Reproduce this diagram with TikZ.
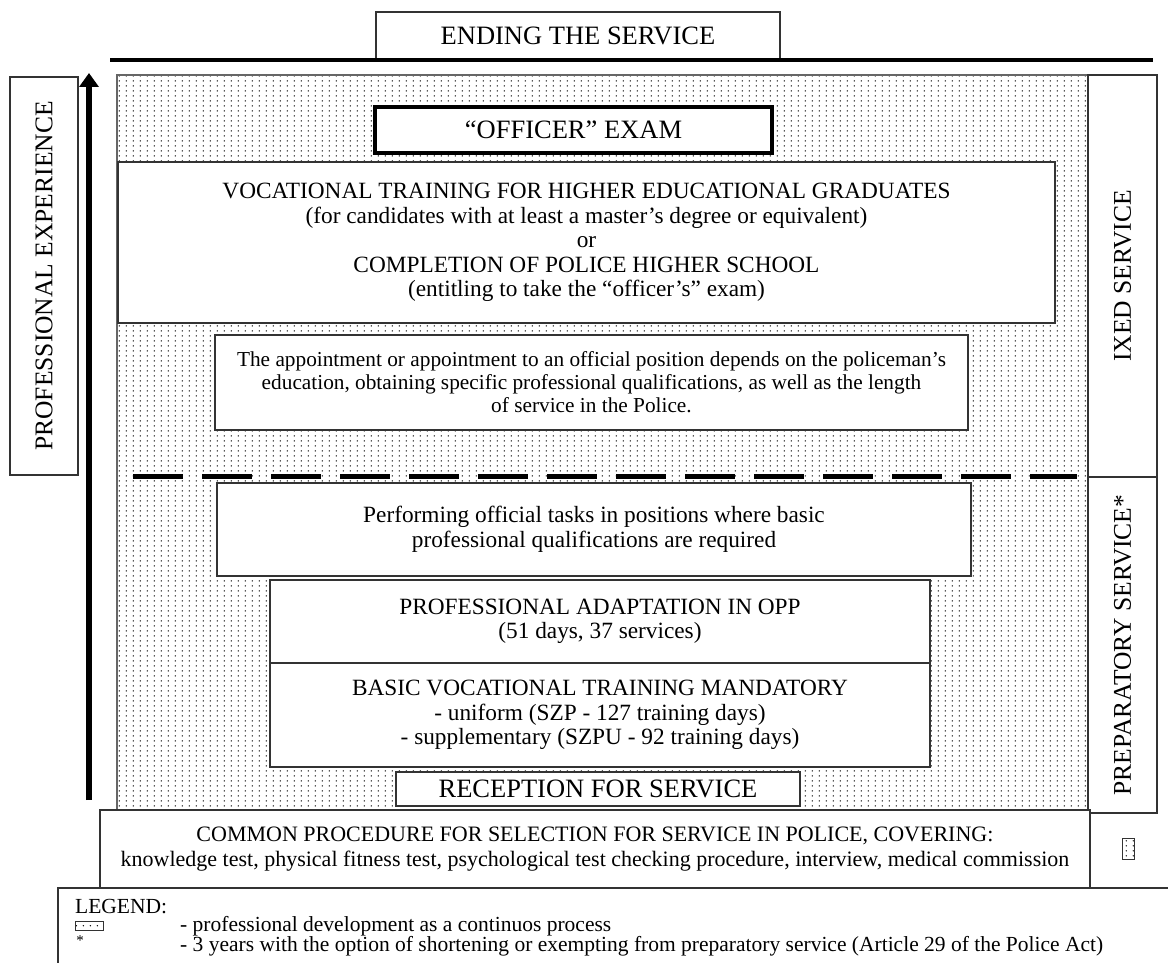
\documentclass[tikz,border=0pt]{standalone}
\usepackage{fontspec}
\setmainfont{Liberation Serif}
\usetikzlibrary{arrows.meta}
\usetikzlibrary{patterns.meta}
\newcommand{\boxfont}{\fontsize{23.3}{24.5}\selectfont}
\newcommand{\headfont}{\fontsize{26.5}{28}\selectfont}
\newcommand{\sidefont}{\fontsize{25.5}{28}\selectfont}
\newcommand{\notefont}{\fontsize{21.3}{23}\selectfont}
\tikzdeclarepattern{
  name=pdots,
  type=uncolored,
  bounding box={(0pt,0pt) and (7.3pt,5pt)},
  tile size={(7.3pt,5pt)},
  code={\pgfpathcircle{\pgfpoint{3.6pt}{2.5pt}}{0.8pt}\pgfusepath{fill}}
}

\begin{document}
\begin{tikzpicture}[x=1pt,y=-1pt,
    box/.style={draw=black!80,line width=1.4pt,fill=white,rectangle,
      inner sep=0pt,outer sep=0pt,align=center,font=\boxfont},
    headbox/.style={box,font=\headfont},
    sidebox/.style={box,font=\sidefont,rotate=90},
    exambox/.style={headbox,draw=black,line width=4.5pt},
    dotbox/.style={draw=black!80,line width=1pt,pattern=pdots,
      inner sep=0pt,outer sep=0pt},
    legtext/.style={inner sep=0pt,anchor=west,font=\fontsize{21.5}{23}\selectfont}]
  \useasboundingbox (0,0) rectangle (1168,963);
  % continuous development area
  \fill[pattern=pdots] (117,75) rectangle (1088,810);
  \draw[black!60,line width=1.2pt] (117,75) rectangle (1088,810);
  % top
  \node[headbox,minimum width=404,minimum height=48] (ending) at (578,36)
        {ENDING THE SERVICE};
  \coordinate (topl) at (110,60);
  \coordinate (topr) at (1153,60);
  \draw[line width=4pt] (topl) -- (topr);
  % left side
  \node[sidebox,minimum width=398,minimum height=68] (profexp) at (44,276)
        {PROFESSIONAL EXPERIENCE};
  \coordinate (arrbot) at (89,800);
  \coordinate (arrtop) at (89,73);
  \draw[line width=6pt,-{Triangle[width=19pt,length=14pt]}] (arrbot) -- (arrtop);
  % right side
  \node[sidebox,minimum width=402,minimum height=69] (ixed) at (1122.5,276)
        {IXED SERVICE};
  \node[sidebox,minimum width=336,minimum height=69] (prep) at (1122.5,645)
        {PREPARATORY SERVICE*};
  % steps
  \node[exambox,minimum width=397,minimum height=46] (exam) at (573.5,130)
        {“OFFICER” EXAM};
  \node[box,minimum width=937,minimum height=161] (voc) at (586.5,242.5)
        {VOCATIONAL TRAINING FOR HIGHER EDUCATIONAL GRADUATES\\
         (for candidates with at least a master’s degree or equivalent)\\
         or\\
         COMPLETION OF POLICE HIGHER SCHOOL\\
         (entitling to take the “officer’s” exam)};
  \node[box,font=\notefont,minimum width=753,minimum height=95] (appoint) at (591.5,382.5)
        {The appointment or appointment to an official position depends on the policeman’s\\
         education, obtaining specific professional qualifications, as well as the length\\
         of service in the Police.};
  \coordinate (dashl) at (133,476);
  \coordinate (dashr) at (1077,476);
  \draw[line width=5pt,dash pattern=on 50pt off 19pt] (dashl) -- (dashr);
  \node[box,minimum width=754,minimum height=93] (perf) at (594,529.5)
        {Performing official tasks in positions where basic\\
         professional qualifications are required};
  \node[box,minimum width=660,minimum height=83] (adapt) at (600,621.5)
        {PROFESSIONAL ADAPTATION IN OPP\\
         (51 days, 37 services)};
  \node[box,minimum width=660,minimum height=104] (basic) at (600,715)
        {BASIC VOCATIONAL TRAINING MANDATORY\\
         - uniform (SZP - 127 training days)\\
         - supplementary (SZPU - 92 training days)};
  \node[headbox,minimum width=404,minimum height=34] (recep) at (598,789)
        {RECEPTION FOR SERVICE};
  % selection
  \node[box,font=\fontsize{22}{25}\selectfont,minimum width=990,minimum height=78] (common) at (595,849)
        {COMMON PROCEDURE FOR SELECTION FOR SERVICE IN POLICE, COVERING:\\
         knowledge test, physical fitness test, psychological test checking procedure, interview, medical commission};
  \coordinate (cellt) at (1090,813);
  \draw[black!80,line width=1.4pt] (cellt) -- (cellt |- common.south);
  \node[dotbox,minimum width=12,minimum height=21] (cellmark) at (1128.5,849) {};
  % legend
  \coordinate (legtr) at (1168,888);
  \coordinate (legtl) at (58,888);
  \coordinate (legbl) at (58,963);
  \draw[black!80,line width=1.4pt] (legtr) -- (legtl) -- (legbl);
  \node[legtext] (leghead) at (75,907) {LEGEND:};
  \node[dotbox,minimum width=28,minimum height=9] (legdots) at (89,926) {};
  \node[inner sep=0pt,font=\fontsize{15}{15}\selectfont] (legstar) at (80,941) {*};
  \node[legtext] (leg1) at (180,926) {- professional development as a continuos process};
  \node[legtext] (leg2) at (180,946)
        {- 3 years with the option of shortening or exempting from preparatory service (Article 29 of the Police Act)};
\end{tikzpicture}
\end{document}
